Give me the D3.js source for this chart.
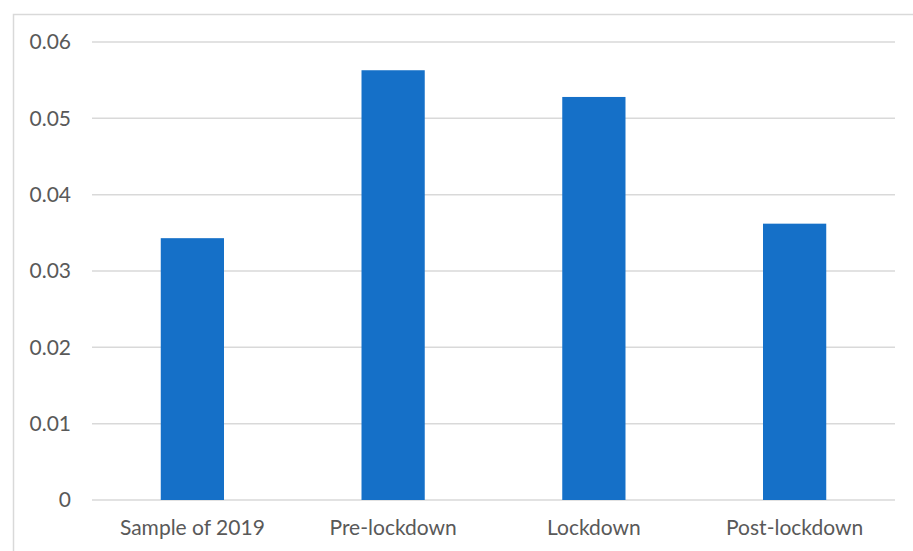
<!DOCTYPE html>
<html>
<head>
<meta charset="utf-8">
<script src="https://cdn.jsdelivr.net/npm/d3@7"></script>
<style>
  html, body { margin: 0; padding: 0; background: #fff; }
  svg text { font-family: Lato, "Open Sans", sans-serif; fill: #595959; }
</style>
</head>
<body>
<svg id="chart" width="913" height="551"></svg>
<script>
// Category labels and their values
const categories = ["Sample of 2019", "Pre-lockdown", "Lockdown", "Post-lockdown"];
const values = [0.0343, 0.0563, 0.0528, 0.0362];
const yTicks = [0, 0.01, 0.02, 0.03, 0.04, 0.05, 0.06];

const svg = d3.select("#chart");
const W = 913, H = 551;

// Chart frame (extends past the right and bottom edges)
svg.append("rect")
  .attr("x", 13.5).attr("y", 14.5)
  .attr("width", W + 10).attr("height", H + 10)
  .attr("fill", "#fff")
  .attr("stroke", "#d9d9d9").attr("stroke-width", 1.5);

const plot = { left: 92, right: 895, top: 42, bottom: 500 };

const x = d3.scaleBand()
  .domain(categories)
  .range([plot.left, plot.right])
  .paddingInner(0.685)
  .paddingOuter(0.3425);

const y = d3.scaleLinear()
  .domain([0, 0.06])
  .range([plot.bottom, plot.top]);

// Horizontal gridlines
svg.append("g")
  .selectAll("line")
  .data(yTicks)
  .join("line")
  .attr("x1", plot.left).attr("x2", plot.right)
  .attr("y1", d => y(d)).attr("y2", d => y(d))
  .attr("stroke", "#d9d9d9").attr("stroke-width", 1.5);

// Y axis labels
const yAxis = d3.axisLeft(y)
  .tickValues(yTicks)
  .tickFormat(d => d === 0 ? "0" : d3.format(".2f")(d))
  .tickSize(0)
  .tickPadding(0);
svg.append("g")
  .attr("transform", `translate(71,0)`)
  .call(yAxis)
  .call(g => g.select(".domain").remove())
  .call(g => g.selectAll("text")
    .attr("font-size", 21)
    .attr("font-family", null)
    .attr("fill", null));

// Bars
svg.append("g")
  .selectAll("rect")
  .data(categories.map((c, i) => ({ c, v: values[i] })))
  .join("rect")
  .attr("x", d => x(d.c))
  .attr("width", x.bandwidth())
  .attr("y", d => y(d.v))
  .attr("height", d => y(0) - y(d.v))
  .attr("fill", "#1570c8");

// X axis labels
const xAxis = d3.axisBottom(x).tickSize(0).tickPadding(0);
svg.append("g")
  .attr("transform", `translate(0,${plot.bottom + 20})`)
  .call(xAxis)
  .call(g => g.select(".domain").remove())
  .call(g => g.selectAll("text")
    .attr("font-size", 21)
    .attr("font-family", null)
    .attr("fill", null));
</script>
</body>
</html>
